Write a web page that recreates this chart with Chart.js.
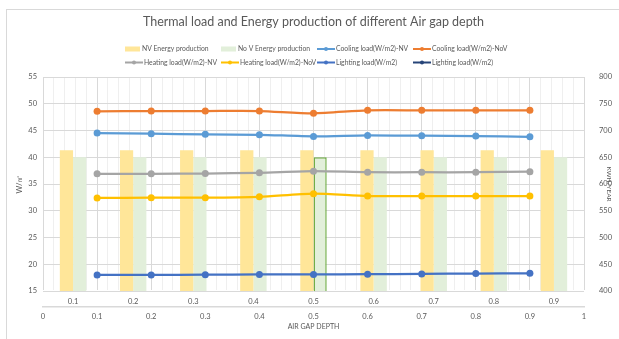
<!DOCTYPE html>
<html>
<head>
<meta charset="utf-8">
<script src="https://cdn.jsdelivr.net/npm/chart.js@4.4.1/dist/chart.umd.min.js"></script>
<style>
  html, body { margin: 0; padding: 0; background: #fff; overflow: hidden; }
  #frame { position: absolute; left: 6px; top: 9px; width: 700px; height: 400px;
           border-left: 1px solid #d9d9d9; border-top: 1px solid #d9d9d9; }
  #wrap { position: absolute; left: 0; top: 0; width: 619px; height: 339px; }
</style>
</head>
<body>
<div id="frame"></div>
<div id="wrap"><canvas id="chart" width="619" height="339"></canvas></div>
<script>
// air gap depth (category labels for the bars, x values for the lines)
const depthLabels = ["0.1", "0.2", "0.3", "0.4", "0.5", "0.6", "0.7", "0.8", "0.9"];
const depthValues = [0.1, 0.2, 0.3, 0.4, 0.5, 0.6, 0.7, 0.8, 0.9];

// energy production, KWH/YEAR (right axis)
const nvEnergy = [663, 663, 663, 663, 663, 663, 663, 663, 663];
const noVEnergy = [650, 650, 650, 650, 650, 650, 650, 650, 650];

// loads, W/m2 (left axis)
const coolingNV = [44.53, 44.4, 44.28, 44.2, 43.9, 44.08, 44.02, 43.96, 43.83];
const coolingNoV = [48.59, 48.64, 48.64, 48.64, 48.21, 48.77, 48.77, 48.77, 48.77];
const heatingNV = [36.9, 36.9, 36.95, 37.1, 37.4, 37.2, 37.2, 37.2, 37.3];
const heatingNoV = [32.4, 32.45, 32.45, 32.6, 33.2, 32.75, 32.75, 32.75, 32.75];
const lightingLoad = [18.0, 18.0, 18.05, 18.1, 18.1, 18.15, 18.2, 18.25, 18.3];
const lightingLoad2 = [];

const leftTicks = { min: 15, max: 55, step: 5 };
const rightTicks = { min: 400, max: 800, step: 50 };

const textColor = "#595959";
const fontFamily = "Lato, 'Open Sans', sans-serif";

// Chart.js 4.5 splits a bar group between every x axis used by any dataset;
// the lines sit on their own linear x axis, so keep the bars on one group.
Chart.BarController.prototype._getAxisCount = () => 1;

function points(values) {
  return values.map((v, i) => ({ x: depthValues[i], y: v }));
}

function lineSet(label, values, color) {
  return {
    type: "line",
    label: label,
    data: points(values),
    xAxisID: "x",
    yAxisID: "y",
    borderColor: color,
    backgroundColor: color,
    borderWidth: 2.25,
    pointRadius: 3.5,
    pointBorderWidth: 0,
    tension: 0.25,
    order: 1,
  };
}

// legend drawn in a fixed 4 x 2 grid like the original
const gridLegend = {
  id: "gridLegend",
  afterDraw(chart) {
    const ctx = chart.ctx;
    const cols = [125, 221, 317, 413];
    const rows = [49, 62.5];
    ctx.save();
    ctx.font = "6.8px " + fontFamily;
    ctx.textBaseline = "middle";
    chart.data.datasets.forEach((ds, i) => {
      const x = cols[i % 4];
      const y = rows[Math.floor(i / 4)];
      if (ds.type === "line") {
        ctx.strokeStyle = ds.borderColor;
        ctx.lineWidth = 2;
        ctx.beginPath();
        ctx.moveTo(x, y);
        ctx.lineTo(x + 18, y);
        ctx.stroke();
        ctx.fillStyle = ds.borderColor;
        ctx.beginPath();
        ctx.arc(x + 9, y, 2, 0, Math.PI * 2);
        ctx.fill();
        ctx.fillStyle = textColor;
        ctx.fillText(ds.label, x + 19, y);
      } else {
        ctx.fillStyle = ds.backgroundColor;
        ctx.fillRect(x, y - 2.5, 15, 5);
        ctx.fillStyle = textColor;
        ctx.fillText(ds.label, x + 17, y);
      }
    });
    ctx.restore();
  },
};

const isMajor = (v) => Math.abs(v * 10 - Math.round(v * 10)) < 1e-6;

new Chart(document.getElementById("chart"), {
  type: "line",
  data: {
    labels: depthLabels,
    datasets: [
      {
        type: "bar",
        label: "NV Energy production",
        data: nvEnergy,
        xAxisID: "xc",
        yAxisID: "y1",
        backgroundColor: "#FFE699",
        borderWidth: 0,
        order: 2,
      },
      {
        type: "bar",
        label: "No V Energy production",
        data: noVEnergy,
        xAxisID: "xc",
        yAxisID: "y1",
        backgroundColor: "#E2EFDA",
        borderColor: depthLabels.map((d) => (d === "0.5" ? "#70AD47" : "rgba(0,0,0,0)")),
        borderWidth: depthLabels.map((d) => (d === "0.5" ? 1.5 : 0)),
        order: 2,
      },
      lineSet("Cooling load(W/m2)-NV", coolingNV, "#5B9BD5"),
      lineSet("Cooling load(W/m2)-NoV", coolingNoV, "#ED7D31"),
      lineSet("Heating load(W/m2)-NV", heatingNV, "#A5A5A5"),
      lineSet("Heating load(W/m2)-NoV", heatingNoV, "#FFC000"),
      lineSet("Lighting load(W/m2)", lightingLoad, "#4472C4"),
      lineSet("Lighting load(W/m2)", lightingLoad2, "#264478"),
    ],
  },
  options: {
    responsive: false,
    animation: false,
    layout: {
      padding: { left: 14, right: 6, top: 0, bottom: 6 },
    },
    datasets: {
      bar: { barPercentage: 1, categoryPercentage: 0.44 },
    },
    plugins: {
      legend: { display: false },
      tooltip: { enabled: false },
      title: {
        display: true,
        text: "Thermal load and Energy production of different Air gap depth",
        color: textColor,
        font: { family: fontFamily, size: 12.5, weight: "normal" },
        padding: { top: 14.5, bottom: 47.5 },
      },
    },
    scales: {
      xc: {
        type: "category",
        position: "bottom",
        weight: 0,
        offset: true,
        grid: { display: false, drawTicks: false },
        border: { display: false },
        ticks: { color: textColor, font: { family: fontFamily, size: 7.5 }, padding: 6, maxRotation: 0, autoSkip: false },
        afterFit: (scale) => { scale.height = 16; },
      },
      x: {
        type: "linear",
        position: "bottom",
        weight: 1,
        min: 0,
        max: 1,
        offset: false,
        grid: {
          color: (c) => (c.tick && !isMajor(c.tick.value) ? "#efefef" : "#d9d9d9"),
          lineWidth: 1,
          drawTicks: false,
          offset: false,
        },
        border: { display: true, color: "#d9d9d9", width: 1.5 },
        ticks: {
          stepSize: 0.02,
          autoSkip: false,
          maxRotation: 0,
          color: textColor,
          font: { family: fontFamily, size: 7.5 },
          padding: 5,
          callback: (v) => (isMajor(v) ? String(Math.round(v * 10) / 10) : ""),
        },
        title: {
          display: true,
          text: "AIR GAP DEPTH",
          color: textColor,
          font: { family: fontFamily, size: 7 },
          padding: { top: 0, bottom: 2 },
        },
        afterFit: (scale) => { scale.height = 26; },
      },
      y: {
        position: "left",
        min: leftTicks.min,
        max: leftTicks.max,
        grid: { color: "#d9d9d9", drawTicks: false },
        border: { display: false },
        ticks: { stepSize: leftTicks.step, color: textColor, font: { family: fontFamily, size: 7.5 }, padding: 6 },
        title: {
          display: true,
          text: "W/㎡",
          color: textColor,
          font: { family: fontFamily, size: 7.5 },
          padding: { top: 1.5, bottom: 0 },
        },
        afterFit: (scale) => { scale.width = 29; },
      },
      y1: {
        position: "right",
        min: rightTicks.min,
        max: rightTicks.max,
        grid: { display: false },
        border: { display: false },
        ticks: { stepSize: rightTicks.step, color: textColor, font: { family: fontFamily, size: 7.5 }, padding: 7 },
        title: {
          display: true,
          text: "KWH/YEAR",
          color: textColor,
          font: { family: fontFamily, size: 6.5 },
          padding: { top: 0, bottom: 0 },
        },
        afterFit: (scale) => { scale.width = 29; },
      },
    },
  },
  plugins: [gridLegend],
});
</script>
</body>
</html>
